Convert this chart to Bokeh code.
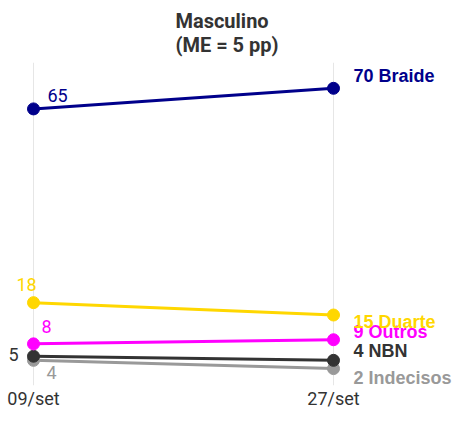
from bokeh.plotting import figure
from bokeh.models import Range1d, FixedTicker
from bokeh.core.properties import value
from bokeh.embed import file_html
from bokeh.resources import INLINE

dates = ["09/set", "27/set"]
candidates = ["Braide", "Duarte", "Outros", "NBN", "Indecisos"]
sep09 = [65, 18, 8, 5, 4]
sep27 = [70, 15, 9, 4, 2]
colors = ["#00008B", "#FFD700", "#FF00FF", "#333333", "#999999"]

# label styling (screen offsets)
left_align = ["left", "center", "left", "right", "left"]
left_xoff = [14, -7, 8, -15, 13]
left_yoff = [-13, -18, -17, -2, 12]
right_yoff = [-12, 7, -8, -9, 9]

p = figure(width=453, height=411, output_backend="svg", toolbar_location=None,
           x_range=Range1d(-0.11, 1.4), y_range=Range1d(-2.1, 76.26),
           min_border_left=0, min_border_right=0, min_border_bottom=0, min_border_top=0)

p.title.text = "Masculino\n(ME = 5 pp)"
p.title.align = "center"
p.title.text_font = "Roboto"
p.title.text_font_size = "20px"
p.title.text_font_style = "bold"
p.title.text_color = "#333333"
p.title.text_line_height = 1.0
p.title.standoff = 12

p.outline_line_color = None
p.background_fill_color = "white"
p.yaxis.visible = False
p.ygrid.visible = False

xs = list(range(len(dates)))
p.xaxis.ticker = FixedTicker(ticks=xs)
p.xaxis.major_label_overrides = {i: d for i, d in enumerate(dates)}
p.xaxis.axis_line_color = None
p.xaxis.major_tick_line_color = None
p.xaxis.minor_tick_line_color = None
p.xaxis.major_tick_out = 0
p.xaxis.major_tick_in = 0
p.xaxis.minor_tick_out = 0
p.xaxis.major_label_text_font = "Roboto"
p.xaxis.major_label_text_font_size = "18px"
p.xaxis.major_label_text_color = "#333333"
p.xaxis.major_label_standoff = 2
p.xgrid.ticker = FixedTicker(ticks=xs)
p.xgrid.grid_line_color = "#e6e6e6"
p.xgrid.grid_line_width = 1

order = list(range(len(candidates)))[::-1]
for i in order:
    ys = [sep09[i], sep27[i]]
    p.line(xs, ys, line_color=colors[i], line_width=3)
    p.scatter(xs, ys, size=12, fill_color=colors[i], line_color=colors[i])

for i in order:
    p.text(x=[xs[0]], y=[sep09[i]], text=[str(sep09[i])],
           text_font=value("Roboto"), text_font_size="18px",
           text_color=colors[i], text_align=left_align[i], text_baseline="middle",
           x_offset=left_xoff[i], y_offset=left_yoff[i])
    p.text(x=[xs[1]], y=[sep27[i]], text=[f"{sep27[i]} {candidates[i]}"],
           text_font=value("Liberation Sans"), text_font_size="18px", text_font_style="bold",
           text_color=colors[i], text_align="left", text_baseline="middle",
           x_offset=20, y_offset=right_yoff[i])

open("out.html", "w").write(file_html(p, INLINE))
